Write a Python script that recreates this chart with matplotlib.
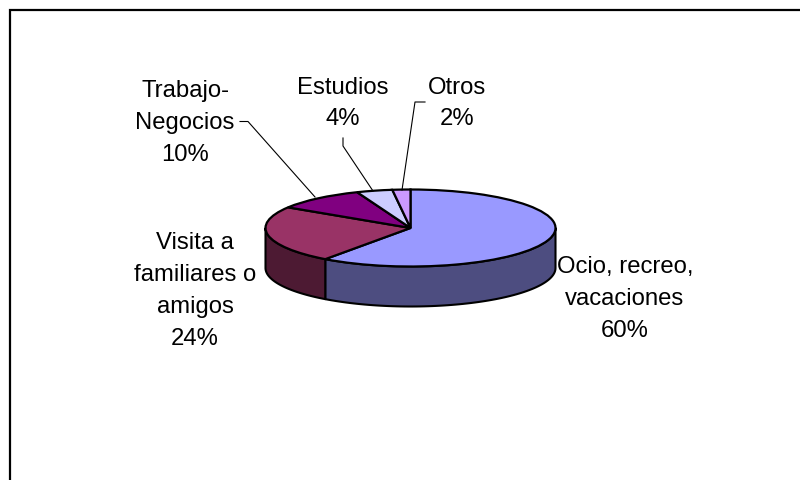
import numpy as np
import matplotlib
matplotlib.use("Agg")
import matplotlib.pyplot as plt
from matplotlib.lines import Line2D

plt.rcParams['font.family'] = ['Liberation Sans', 'DejaVu Sans']

# data
categories = ["Ocio, recreo,\nvacaciones", "Visita a\nfamiliares o\namigos",
              "Trabajo-\nNegocios", "Estudios", "Otros"]
values = [60, 24, 10, 4, 2]
top_colors = ["#9999FF", "#993366", "#800080", "#CCCCFF", "#CC99FF"]
side_colors = ["#4D4D80", "#4D1A33", "#400040", "#666680", "#664D80"]

W, H = 800, 481
CX, CY = 410.5, 229
RX, RY = 145, 38.5
DEPTH = 40 / RY   # wall height in axes units

fig = plt.figure(figsize=(W / 100, H / 100), dpi=100)
ax = fig.add_axes([(CX - RX) / W, 1 - (CY + RY) / H, 2 * RX / W, 2 * RY / H])

# side wall first, only the front half can be seen
start = 90.0
total = sum(values)
for val, col in zip(values, side_colors):
    end = start - 360.0 * val / total
    lo, hi = max(end, -180.0), min(start, 0.0)
    if hi > lo:
        t = np.radians(np.linspace(hi, lo, 80))
        xs = np.cos(t)
        ys = np.sin(t)
        ax.fill(np.r_[xs, xs[::-1]], np.r_[ys, ys[::-1] - DEPTH], facecolor=col,
                edgecolor="black", lw=1.5, clip_on=False, joinstyle="round")
    start = end

ax.pie(values, colors=top_colors, startangle=90, counterclock=False, radius=1,
       wedgeprops=dict(edgecolor="black", linewidth=1.6, clip_on=False))
ax.set_aspect("auto")
ax.set_xlim(-1, 1)
ax.set_ylim(-1, 1)
ax.axis("off")


def px(x, y):
    return x / W, 1 - y / H


# labels, centre of the block in pixels
label_pos = [(625, 299), (195, 291), (185, 123), (343, 103.5), (457, 103.5)]
for name, val, (x, y) in zip(categories, values, label_pos):
    fx, fy = px(x, y)
    fig.text(fx, fy, "%s\n%d%%" % (name, val), ha="center", va="center",
             ma="center", fontsize=17.2, linespacing=1.58, color="black")

# leader lines
leaders = [
    ([240, 248, 315], [122.5, 122.5, 198]),
    ([343, 343, 373], [139, 147, 192]),
    ([425, 415, 402], [103, 103, 191]),
]
for xs, ys in leaders:
    fig.add_artist(Line2D([x / W for x in xs], [1 - y / H for y in ys],
                          color="black", lw=0.8))

# chart border, cut off at right and bottom
fig.add_artist(Line2D([9.5 / W, 9.5 / W, 1], [0, 1 - 11 / H, 1 - 11 / H],
                      color="black", lw=1.6, solid_joinstyle="miter"))

fig.savefig("out.png", dpi=100, facecolor="white")
